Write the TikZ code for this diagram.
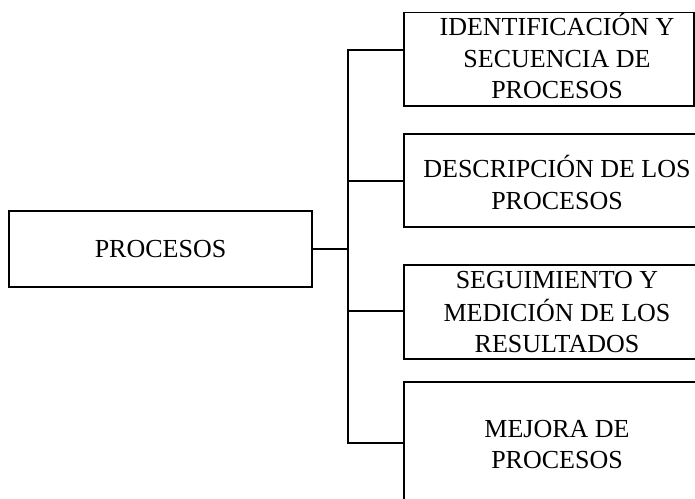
\documentclass[tikz,border=0pt]{standalone}
\usepackage{fontspec}
\setmainfont{Liberation Serif}
\begin{document}
\begin{tikzpicture}[x=1pt,y=-1pt,
  frame/.style={draw, line width=1.5pt, inner sep=0pt},
  boxtext/.style={align=center, inner sep=0pt, anchor=north,
    font=\fontsize{26}{31.5}\selectfont},
  link/.style={line width=1.5pt}]
\useasboundingbox (0,0) rectangle (695,498);
\clip (0,0) rectangle (695,498);

% main block
\node[frame, minimum width=303pt, minimum height=76pt,
      font=\fontsize{26}{31.5}\selectfont] (root) at (160.5,249) {PROCESOS};

% sub-blocks (the lower ones run past the right margin)
\node[frame, minimum width=290pt, minimum height=93.5pt] (b1) at (549,59.25) {};
\node[frame, minimum width=316pt, minimum height=93pt] (b2) at (562,180.5) {};
\node[frame, minimum width=316pt, minimum height=94pt] (b3) at (562,312) {};
\node[frame, minimum width=316pt, minimum height=128pt] (b4) at (562,446) {};

% sub-block captions
\node[boxtext] (t1) at (557,13) {\strut IDENTIFICACIÓN Y\\\strut SECUENCIA DE\\\strut PROCESOS};
\node[boxtext] (t2) at (557,155) {\strut DESCRIPCIÓN DE LOS\\\strut PROCESOS};
\node[boxtext] (t3) at (557,266) {\strut SEGUIMIENTO Y\\\strut MEDICIÓN DE LOS\\\strut RESULTADOS};
\node[boxtext] (t4) at (557,415) {\strut MEJORA DE\\\strut PROCESOS};

% connector tree
\coordinate (hub) at (348,249);
\coordinate (j1) at (348,50);
\coordinate (j2) at (348,181);
\coordinate (j3) at (348,311);
\coordinate (j4) at (348,443);

\draw[link] (root.east) -- (hub);
\draw[link] (j1 -| b1.west) -- (j1) -- (j4) -- (j4 -| b4.west);
\draw[link] (j2) -- (j2 -| b2.west);
\draw[link] (j3) -- (j3 -| b3.west);
\end{tikzpicture}
\end{document}
